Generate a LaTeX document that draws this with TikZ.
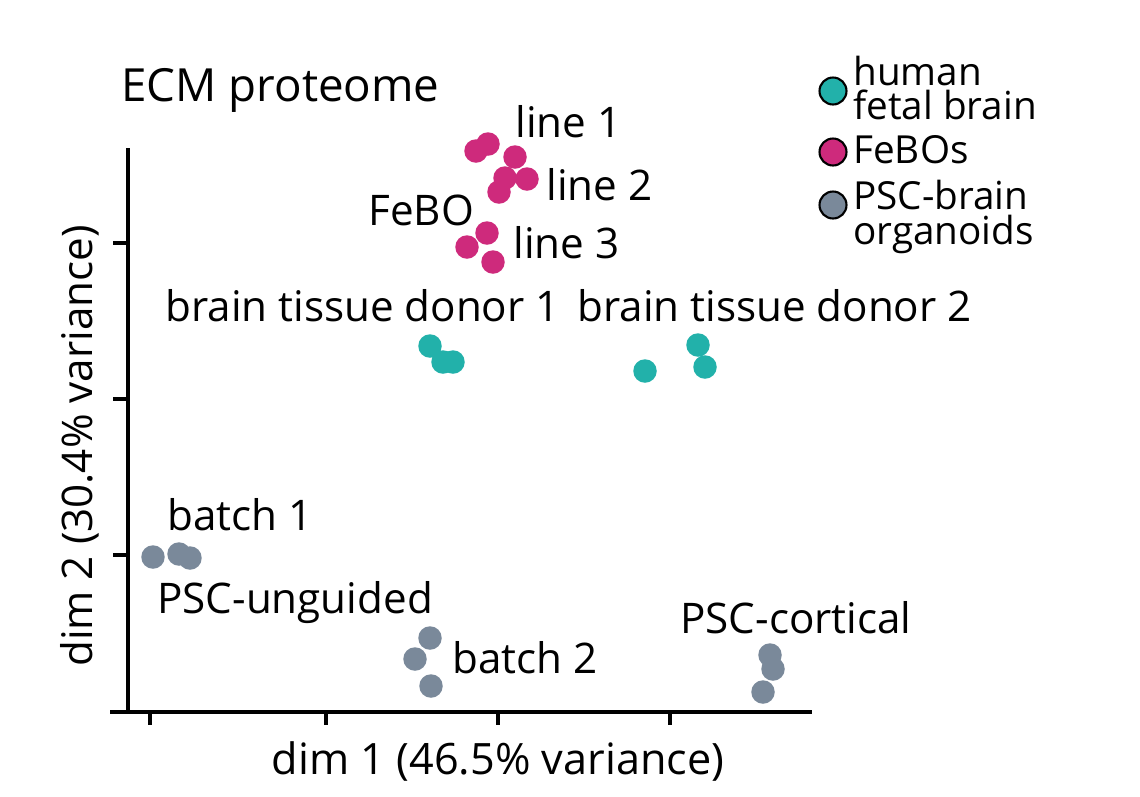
\documentclass[tikz,border=0pt]{standalone}
\usepackage{fontspec}
\setmainfont{Open Sans}
\usetikzlibrary{positioning}

\definecolor{fetal}{HTML}{22B1AA}
\definecolor{febo}{HTML}{CE2A7C}
\definecolor{psc}{HTML}{7A899A}

\begin{document}
\begin{tikzpicture}[x=0.02cm, y=-0.02cm,
    dot/.style={circle, fill=#1, minimum size=0.47cm, inner sep=0pt},
    key/.style={circle, draw, line width=1.2pt, fill=#1, minimum size=0.54cm, inner sep=0pt},
    lbl/.style={font=\fontsize{24}{28}\selectfont, inner sep=0pt},
    keytext/.style={font=\fontsize{22}{19.5}\selectfont, inner sep=0pt, align=left},
    axis/.style={line width=2.2pt}]

    \useasboundingbox (0,0) rectangle (1140,796);

    % Axes
    \coordinate (ytop) at (128,148);
    \coordinate (ybot) at (128,712);
    \coordinate (xleft) at (110,712);
    \coordinate (xright) at (812,712);
    \draw[axis] (ytop) -- (ybot);
    \draw[axis] (xleft) -- (xright);
    \foreach \ty in {243,399,555}
        \draw[axis] (113,\ty) -- (128,\ty);
    \foreach \tx in {150,326,498,670}
        \draw[axis] (\tx,712) -- (\tx,725);

    % Axis labels and title
    \node[lbl, font=\fontsize{26}{30}\selectfont, anchor=west] (title) at (121,90) {ECM proteome};
    \node[lbl, font=\fontsize{24.6}{28}\selectfont] (xlab) at (498,761) {dim 1 (46.5\% variance)};
    \node[lbl, rotate=90] (ylab) at (80,446) {dim 2 (30.4\% variance)};

    % FeBOs
    \node[dot=febo] (f1) at (476,151) {};
    \node[dot=febo] (f2) at (488,144) {};
    \node[dot=febo] (f3) at (515,157) {};
    \node[dot=febo] (f4) at (505,178) {};
    \node[dot=febo] (f5) at (527,179) {};
    \node[dot=febo] (f6) at (499,192) {};
    \node[dot=febo] (f7) at (487,233) {};
    \node[dot=febo] (f8) at (467,247) {};
    \node[dot=febo] (f9) at (493,262) {};

    % human fetal brain
    \node[dot=fetal] (h1) at (430,346) {};
    \node[dot=fetal] (h2) at (443,362) {};
    \node[dot=fetal] (h3) at (453,362) {};
    \node[dot=fetal] (h4) at (645,371) {};
    \node[dot=fetal] (h5) at (698,345) {};
    \node[dot=fetal] (h6) at (705,367) {};

    % PSC-brain organoids
    \node[dot=psc] (p1) at (153,557) {};
    \node[dot=psc] (p2) at (179,554) {};
    \node[dot=psc] (p3) at (190,558) {};
    \node[dot=psc] (p4) at (430,638) {};
    \node[dot=psc] (p5) at (415,659) {};
    \node[dot=psc] (p6) at (431,686) {};
    \node[dot=psc] (p7) at (770,655) {};
    \node[dot=psc] (p8) at (773,669) {};
    \node[dot=psc] (p9) at (763,692) {};

    % Cluster labels
    \node[lbl, anchor=west] (line1) at (515,122) {line 1};
    \node[lbl, anchor=west] (line2) at (546,185) {line 2};
    \node[lbl, anchor=west] (febolab) at (368,210) {FeBO};
    \node[lbl, anchor=west] (line3) at (513,243) {line 3};
    \node[lbl, anchor=west] (donor1) at (165,306) {brain tissue donor 1};
    \node[lbl, anchor=west] (donor2) at (577,306) {brain tissue donor 2};
    \node[lbl, anchor=west] (batch1) at (167,515) {batch 1};
    \node[lbl, anchor=west] (unguided) at (157,603) {PSC-unguided};
    \node[lbl, anchor=west] (batch2) at (452,658) {batch 2};
    \node[lbl, anchor=west] (cortical) at (680,618) {PSC-cortical};

    % Legend
    \node[key=fetal] (kfetal) at (833,91) {};
    \node[key=febo] (kfebo) at (833,152) {};
    \node[key=psc] (kpsc) at (833,205) {};
    \node[keytext, anchor=west] (tfetal) at (853,88) {human\\fetal brain};
    \node[keytext, anchor=west] (tfebo) at (853,150) {FeBOs};
    \node[keytext, anchor=west] (tpsc) at (853,217) {PSC-brain\\organoids};
\end{tikzpicture}
\end{document}
